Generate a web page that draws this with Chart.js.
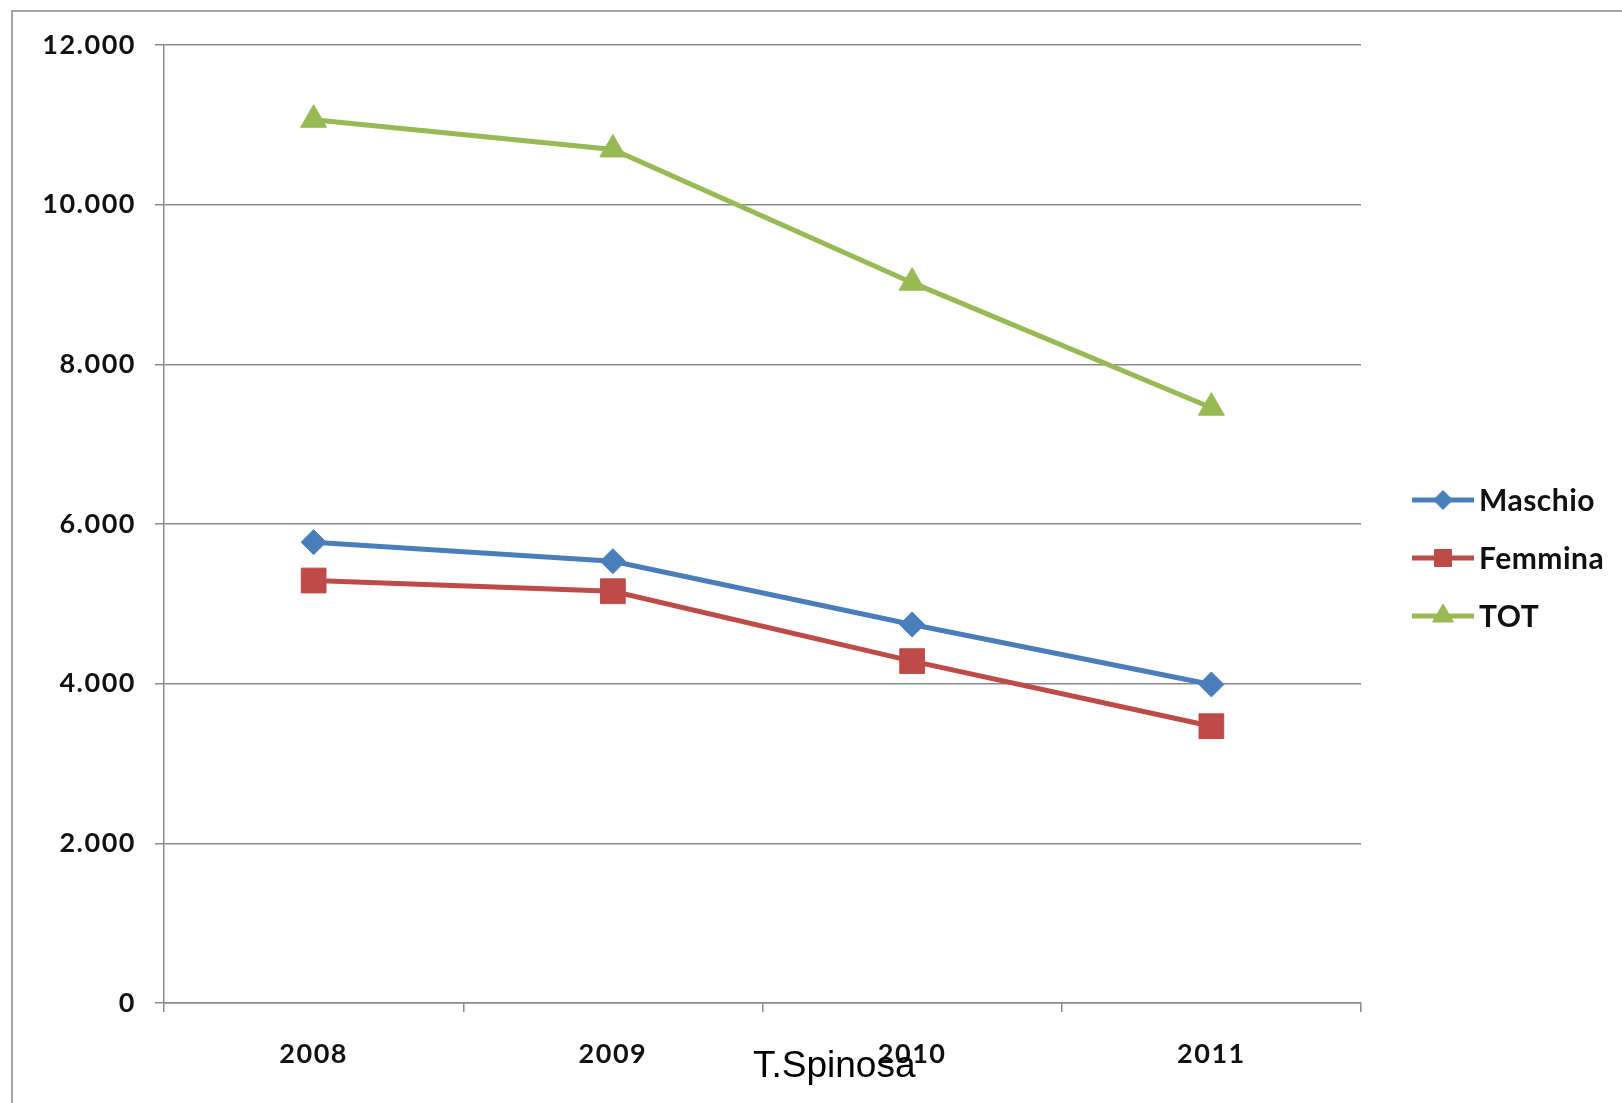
<!DOCTYPE html>
<html>
<head>
<meta charset="utf-8">
<script src="https://cdn.jsdelivr.net/npm/chart.js@4/dist/chart.umd.min.js"></script>
<style>
  html, body { margin: 0; padding: 0; background: #fff; overflow: hidden; }
  canvas { display: block; }
</style>
</head>
<body>
<canvas id="c" width="1622" height="1103"></canvas>
<script>
// Anni e valori per sesso
const years = ['2008', '2009', '2010', '2011'];
const maschio = [5772, 5534, 4741, 3990];
const femmina = [5292, 5158, 4282, 3467];
const tot = [11064, 10692, 9023, 7457];
const yTickLabels = ['0', '2.000', '4.000', '6.000', '8.000', '10.000', '12.000'];
const seriesNames = ['Maschio', 'Femmina', 'TOT'];
const seriesColors = ['#4A7EBB', '#BE4B48', '#98B954'];
const footerText = 'T.Spinosa';

const GRID = '#8a8a8a';
const TICK_FONT = { family: 'Lato, "Open Sans", sans-serif', size: 27, weight: 'bold' };

function drawMarker(ctx, style, x, y, r, color) {
  ctx.save();
  ctx.fillStyle = color;
  ctx.strokeStyle = color;
  ctx.lineWidth = 1;
  ctx.beginPath();
  if (style === 'rectRot') {
    ctx.moveTo(x, y - r); ctx.lineTo(x + r, y); ctx.lineTo(x, y + r); ctx.lineTo(x - r, y);
  } else if (style === 'rect') {
    const h = r * Math.SQRT1_2;
    ctx.rect(x - h, y - h, 2 * h, 2 * h);
  } else {
    const a = Math.PI * 2 / 3;
    ctx.moveTo(x, y - r);
    ctx.lineTo(x + Math.sin(a) * r, y - Math.cos(a) * r);
    ctx.lineTo(x + Math.sin(2 * a) * r, y - Math.cos(2 * a) * r);
  }
  ctx.closePath();
  ctx.fill();
  ctx.stroke();
  ctx.restore();
}

// Cornice, legenda a destra e firma in basso
const decorations = {
  id: 'decorations',
  beforeDraw(chart) {
    const ctx = chart.ctx;
    ctx.fillStyle = '#fff';
    ctx.fillRect(0, 0, chart.width, chart.height);
    ctx.strokeStyle = '#a3a3a3';
    ctx.lineWidth = 2;
    ctx.strokeRect(12, 11, chart.width + 40, chart.height + 40);
    // spaziatura delle cifre sugli assi
    ctx.letterSpacing = '1.5px';
  },
  afterDraw(chart) {
    const ctx = chart.ctx;
    const rows = [500, 558, 616];
    const legendSizes = [9.5, 12, 12];
    ctx.save();
    ctx.letterSpacing = '0.5px';
    chart.data.datasets.forEach((ds, i) => {
      const y = rows[i];
      ctx.strokeStyle = ds.borderColor;
      ctx.lineWidth = 5;
      ctx.beginPath();
      ctx.moveTo(1412, y);
      ctx.lineTo(1474, y);
      ctx.stroke();
      drawMarker(ctx, ds.pointStyle, 1443, y, legendSizes[i], ds.borderColor);
      ctx.fillStyle = '#111';
      ctx.font = 'bold 30px Lato, "Open Sans", sans-serif';
      ctx.textAlign = 'left';
      ctx.textBaseline = 'middle';
      ctx.fillText(ds.label, 1479, y + 1);
    });
    ctx.letterSpacing = '0px';
    ctx.fillStyle = '#000';
    ctx.font = '37px "Liberation Sans", Arial, sans-serif';
    ctx.textAlign = 'left';
    ctx.textBaseline = 'alphabetic';
    ctx.fillText(footerText, 753, 1077);
    ctx.restore();
  }
};

const seriesData = [maschio, femmina, tot];
const pointStyles = ['rectRot', 'rect', 'triangle'];
const pointSizes = [12.5, 17.5, 15];

new Chart(document.getElementById('c'), {
  type: 'line',
  data: {
    labels: years,
    datasets: seriesData.map((d, i) => ({
      label: seriesNames[i],
      data: d,
      borderColor: seriesColors[i],
      backgroundColor: seriesColors[i],
      borderWidth: 5,
      pointStyle: pointStyles[i],
      pointRadius: pointSizes[i],
      pointBorderWidth: 1,
      pointBackgroundColor: seriesColors[i],
      pointBorderColor: seriesColors[i],
      tension: 0
    }))
  },
  options: {
    responsive: false,
    animation: false,
    devicePixelRatio: 1,
    layout: { padding: { top: 45, right: 261, bottom: 0, left: 0 } },
    plugins: { legend: { display: false }, tooltip: { enabled: false } },
    scales: {
      x: {
        offset: true,
        grid: { offset: true, drawOnChartArea: false, drawTicks: true, tickLength: 9, color: GRID, lineWidth: 1.5 },
        border: { display: true, color: GRID, width: 1.5 },
        ticks: { color: '#111', font: TICK_FONT, padding: 26, maxRotation: 0 },
        afterFit(scale) { scale.height = 100; }
      },
      y: {
        min: 0,
        max: 12000,
        ticks: {
          stepSize: 2000,
          color: '#111',
          font: TICK_FONT,
          padding: 19,
          callback: (v, i) => yTickLabels[i]
        },
        grid: { color: GRID, lineWidth: 1.5, tickLength: 9, drawTicks: true },
        border: { display: true, color: GRID, width: 1.5 },
        afterFit(scale) { scale.width = 164; }
      }
    }
  },
  plugins: [decorations]
});
</script>
</body>
</html>
